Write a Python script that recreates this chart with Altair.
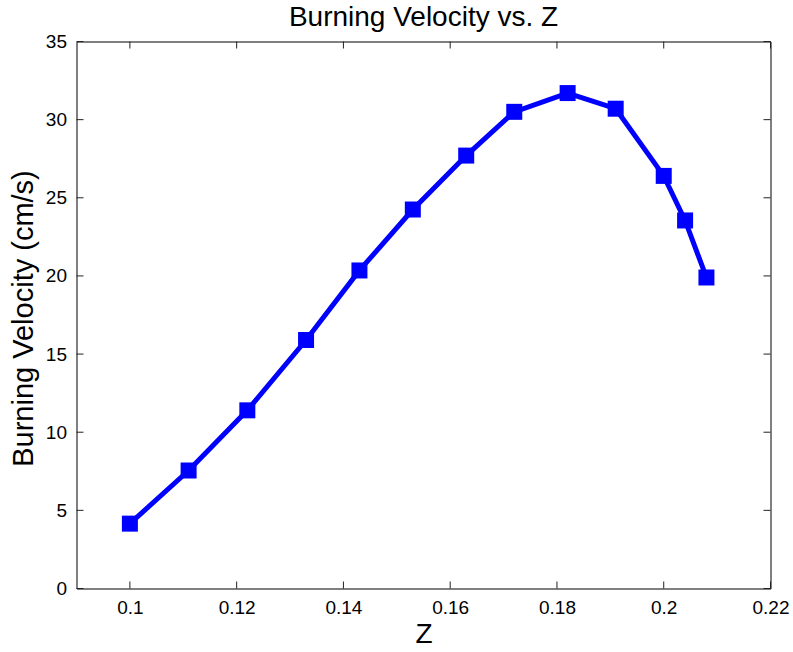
import altair as alt
import pandas as pd

# Data
z_values = [0.100, 0.111, 0.122, 0.133, 0.143, 0.153, 0.163, 0.172, 0.182, 0.191, 0.200, 0.204, 0.208]
velocity = [4.15, 7.55, 11.4, 15.9, 20.35, 24.25, 27.7, 30.5, 31.7, 30.7, 26.4, 23.55, 19.9]
x_ticks = [0.10, 0.12, 0.14, 0.16, 0.18, 0.20, 0.22]
y_ticks = [0, 5, 10, 15, 20, 25, 30, 35]
chart_title = ["Burning Velocity vs. Z"]

W, H = 694, 547
TL = 7
FONT = "Liberation Sans"
BLUE = "#0000ff"

df = pd.DataFrame({"z": z_values, "v": velocity})
xt = pd.DataFrame({"t": x_ticks})
yt = pd.DataFrame({"t": y_ticks})
tdf = pd.DataFrame({"title": chart_title})

xscale = alt.Scale(domain=[0.09, 0.22], nice=False, zero=False)
yscale = alt.Scale(domain=[0, 35], nice=False)

xaxis = alt.Axis(values=x_ticks, format="~g", ticks=False, domain=False, grid=False,
                 labelFont=FONT, labelFontSize=19, labelColor="black",
                 labelBaseline="alphabetic", labelPadding=25, labelFlush=False,
                 title="Z", titleFont=FONT, titleFontSize=28, titleFontWeight="normal",
                 titleColor="black", titleX=W / 2, titleY=54, titleBaseline="alphabetic",
                 titleAlign="center")
yaxis = alt.Axis(values=y_ticks, ticks=False, domain=False, grid=False,
                 labelFont=FONT, labelFontSize=19, labelColor="black", labelPadding=10,
                 labelFlush=False,
                 title="Burning Velocity (cm/s)", titleFont=FONT, titleFontSize=29,
                 titleFontWeight="normal", titleColor="black", titleAngle=270,
                 titleX=-44, titleY=276.5, titleBaseline="alphabetic", titleAlign="center")

line = alt.Chart(df).mark_line(color=BLUE, strokeWidth=5).encode(
    x=alt.X("z:Q", scale=xscale, axis=xaxis),
    y=alt.Y("v:Q", scale=yscale, axis=yaxis),
)
pts = alt.Chart(df).mark_square(color=BLUE, size=256, opacity=1, filled=True).encode(
    x=alt.X("z:Q", scale=xscale),
    y=alt.Y("v:Q", scale=yscale),
)

tick_color = "#222222"
bt = alt.Chart(xt).mark_rule(color=tick_color, strokeWidth=1).encode(
    x=alt.X("t:Q", scale=xscale), y=alt.value(H), y2=alt.value(H - TL))
tt = alt.Chart(xt).mark_rule(color=tick_color, strokeWidth=1).encode(
    x=alt.X("t:Q", scale=xscale), y=alt.value(0), y2=alt.value(TL))
lt = alt.Chart(yt).mark_rule(color=tick_color, strokeWidth=1).encode(
    y=alt.Y("t:Q", scale=yscale), x=alt.value(0), x2=alt.value(TL))
rt = alt.Chart(yt).mark_rule(color=tick_color, strokeWidth=1).encode(
    y=alt.Y("t:Q", scale=yscale), x=alt.value(W), x2=alt.value(W - TL))

title = alt.Chart(tdf).mark_text(font=FONT, fontSize=28, color="black", align="center",
                                 baseline="alphabetic").encode(
    text="title:N", x=alt.value(W / 2), y=alt.value(-16))

chart = alt.layer(bt, tt, lt, rt, line, pts, title).properties(
    width=W, height=H,
    background="white",
    autosize=alt.AutoSizeParams(type="none"),
    padding={"left": 76.5, "top": 41.5, "right": 22.5, "bottom": 63.5},
).configure_view(stroke="black", strokeWidth=1)

chart.save("out.html", embed_options={"renderer": "svg", "actions": False})
